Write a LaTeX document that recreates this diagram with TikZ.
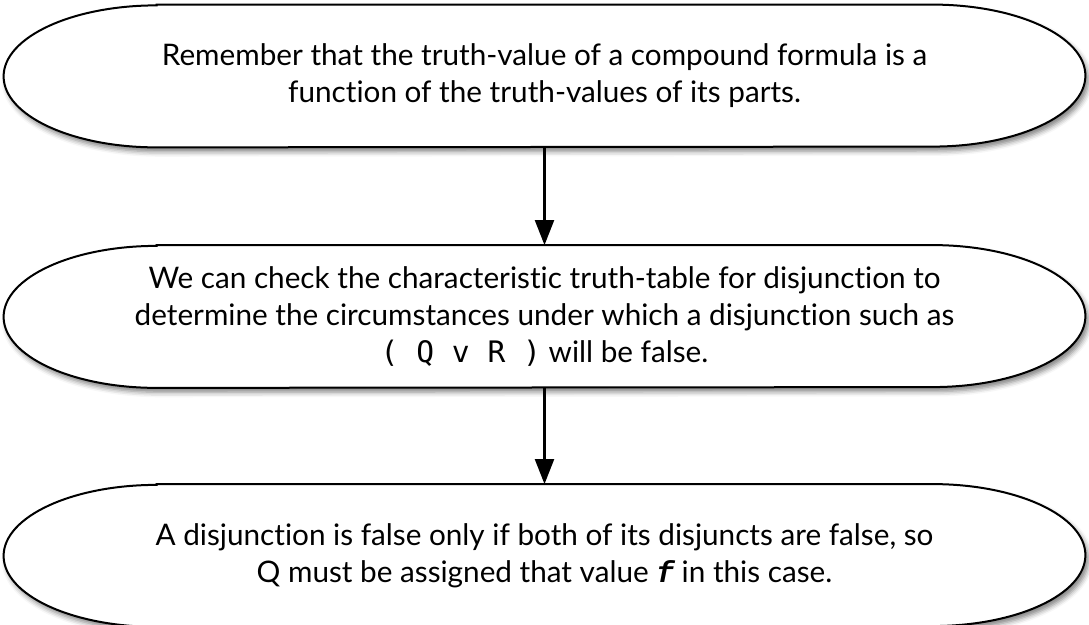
\documentclass[tikz,border=0pt]{standalone}
\usepackage{fontspec}
\setmainfont{Lato}[RawFeature={-liga}]
\newfontfamily\monof{DejaVu Sans Mono}
\newfontfamily\courf{Liberation Mono}
\usetikzlibrary{arrows.meta,backgrounds,shadows.blur}
\tikzset{
  capsule/.style={minimum width=540.5pt, minimum height=71pt, inner sep=0pt,
    align=center, font=\fontsize{14.85pt}{18.5pt}\selectfont},
  capline/.style={draw=black, line width=1pt, fill=white,
    blur shadow={shadow xshift=1.5pt, shadow yshift=-2.2pt, shadow blur radius=2.5pt, shadow opacity=50}},
  flow/.style={line width=1.1pt, -{Triangle[length=12.5pt,width=9.5pt]}}
}
\newcommand\drawcapsule[1]{%
  \draw[capline] ([xshift=76.5pt]#1.north west) -- ([xshift=-76.5pt]#1.north east)
    arc[start angle=90, end angle=-90, x radius=76.5pt, y radius=35.5pt]
    -- ([xshift=76.5pt]#1.south west)
    arc[start angle=270, end angle=90, x radius=76.5pt, y radius=35.5pt] -- cycle;}
\begin{document}
\begin{tikzpicture}[x=0.5pt,y=0.5pt]
\useasboundingbox (0,0) rectangle (1089,625);
\node[capsule] (top) at (544.5,549) {Remember that the truth-value of a compound formula is a\\function of the truth-values of its parts.};
\node[capsule] (mid) at (544.5,308.5) {We can check the characteristic truth-table for disjunction to\\determine the circumstances under which a disjunction such as\\{\monof\fontsize{14.8pt}{18.5pt}\selectfont( Q v R )} will be false.};
\node[capsule] (bot) at (544.5,69.5) {A disjunction is false only if both of its disjuncts are false, so\\Q must be assigned that value {\courf\bfseries\itshape f} in this case.};
\begin{scope}[on background layer]
\drawcapsule{top}
\drawcapsule{mid}
\drawcapsule{bot}
\end{scope}
\draw[flow] (top.south) -- (mid.north);
\draw[flow] (mid.south) -- (bot.north);
\end{tikzpicture}
\end{document}
